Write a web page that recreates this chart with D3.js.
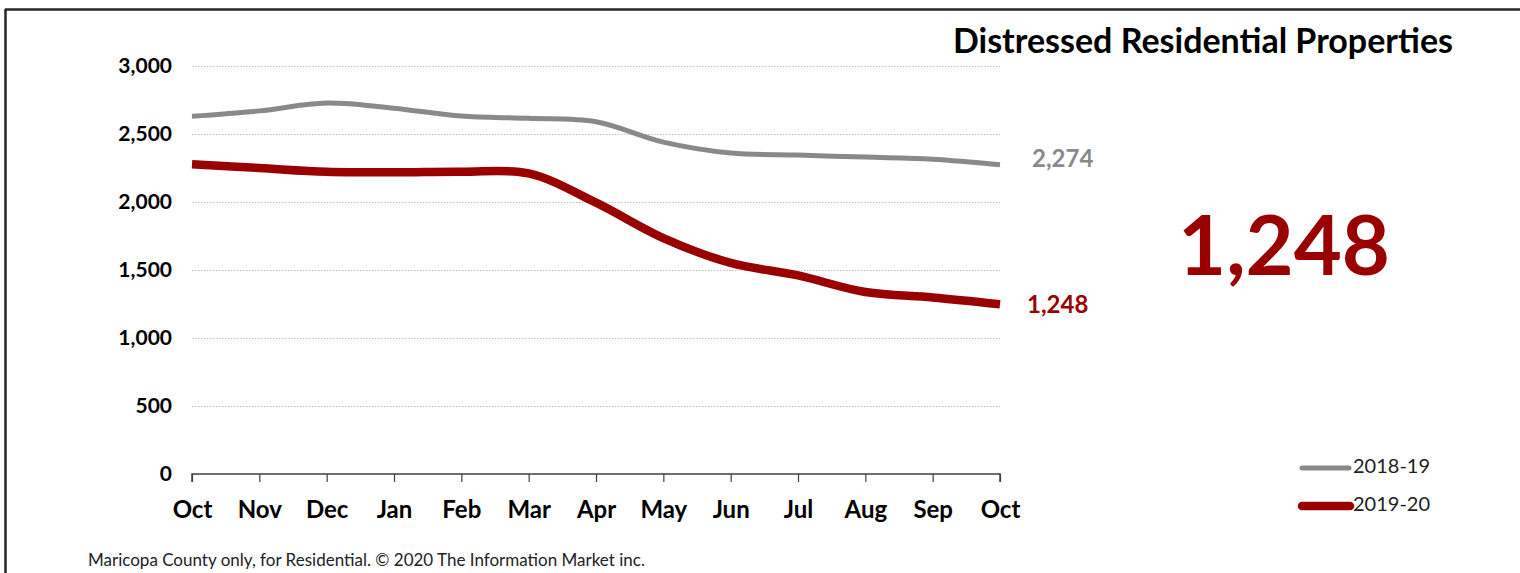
<!DOCTYPE html>
<html>
<head>
<meta charset="utf-8">
<script src="https://cdn.jsdelivr.net/npm/d3@7"></script>
<style>
  html, body { margin: 0; padding: 0; background: #fff; }
  svg { display: block; font-family: Lato, "Open Sans", sans-serif; }
</style>
</head>
<body>
<svg id="chart" width="1520" height="573"></svg>
<script>
const months = ["Oct","Nov","Dec","Jan","Feb","Mar","Apr","May","Jun","Jul","Aug","Sep","Oct"];
const series2018 = [2630, 2670, 2728, 2690, 2632, 2615, 2590, 2440, 2360, 2345, 2330, 2315, 2274];
const series2019 = [2278, 2250, 2222, 2218, 2222, 2210, 1995, 1735, 1552, 1460, 1338, 1298, 1248];
const yTicks = [0, 500, 1000, 1500, 2000, 2500, 3000];
const seriesNames = ["2018-19", "2019-20"];
const title = "Distressed Residential Properties";
const footer = "Maricopa County only, for Residential. \u00A9 2020 The Information Market inc.";

const svg = d3.select("#chart");
const fmt = d3.format(",");

// frame
svg.append("line").attr("x1", 5).attr("x2", 1520).attr("y1", 9.5).attr("y2", 9.5)
  .attr("stroke", "#262626").attr("stroke-width", 2.5);
svg.append("line").attr("x1", 5.5).attr("x2", 5.5).attr("y1", 9).attr("y2", 573)
  .attr("stroke", "#262626").attr("stroke-width", 2.5);

const x = d3.scaleLinear().domain([0, months.length - 1]).range([192, 1000]);
const y = d3.scaleLinear().domain([0, 3000]).range([474, 66]);

// gridlines
svg.append("g").selectAll("line").data(yTicks.filter(d => d > 0)).join("line")
  .attr("x1", 192).attr("x2", 1000)
  .attr("y1", d => Math.round(y(d)) + 0.5).attr("y2", d => Math.round(y(d)) + 0.5)
  .attr("stroke", "#bfbfbf").attr("stroke-width", 1).attr("stroke-dasharray", "1.5,1.5");

// y axis labels
const yAxis = d3.axisLeft(y).tickValues(yTicks).tickSize(0).tickPadding(0).tickFormat(fmt);
const gy = svg.append("g").attr("transform", "translate(172,0)").call(yAxis);
gy.select(".domain").remove();
gy.selectAll("text").attr("font-size", 21).attr("font-weight", 700).attr("fill", "#000")
  .attr("font-family", "Lato, sans-serif");

// x axis
const xAxis = d3.axisBottom(x).tickValues(d3.range(months.length)).tickSize(8).tickPadding(19)
  .tickFormat(i => months[i]);
const gx = svg.append("g").attr("transform", "translate(0,474)").call(xAxis);
gx.select(".domain").attr("stroke", "#404040").attr("stroke-width", 1.5).attr("d", "M192,8V0H1000V8");
gx.selectAll(".tick line").attr("stroke", "#404040").attr("stroke-width", 1.2);
gx.selectAll("text").attr("font-size", 24).attr("font-weight", 700).attr("fill", "#000")
  .attr("font-family", "Lato, sans-serif");

// lines
const line = d3.line().x((d, i) => x(i)).y(d => y(d)).curve(d3.curveCatmullRom.alpha(0.5));
svg.append("path").datum(series2018).attr("d", line)
  .attr("fill", "none").attr("stroke", "#898989").attr("stroke-width", 5);
svg.append("path").datum(series2019).attr("d", line)
  .attr("fill", "none").attr("stroke", "#990000").attr("stroke-width", 8.5);

// end labels
const last = months.length - 1;
svg.append("text").attr("x", 1032).attr("y", y(series2018[last]) - 4)
  .attr("dominant-baseline", "middle").attr("font-size", 24).attr("font-weight", 700)
  .attr("fill", "#898989").text(fmt(series2018[last]));
svg.append("text").attr("x", 1027).attr("y", y(series2019[last]) + 3)
  .attr("dominant-baseline", "middle").attr("font-size", 24).attr("font-weight", 700)
  .attr("fill", "#990000").text(fmt(series2019[last]));

// title
svg.append("text").attr("x", 1453).attr("y", 53).attr("text-anchor", "end")
  .attr("font-size", 34).attr("font-weight", 700).attr("fill", "#000").text(title);

// big number
svg.append("text").attr("x", 1284).attr("y", 275).attr("text-anchor", "middle")
  .attr("font-size", 83).attr("font-weight", 700).attr("fill", "#990000")
  .text(fmt(series2019[last]));

// legend
const legend = [
  {name: seriesNames[0], color: "#898989", w: 5, y: 468, x1: 1302, x2: 1349},
  {name: seriesNames[1], color: "#990000", w: 8.5, y: 506, x1: 1302, x2: 1350}
];
const lg = svg.append("g").selectAll("g").data(legend).join("g");
lg.append("line").attr("x1", d => d.x1).attr("x2", d => d.x2).attr("y1", d => d.y).attr("y2", d => d.y)
  .attr("stroke", d => d.color).attr("stroke-width", d => d.w).attr("stroke-linecap", "round");
lg.append("text").attr("x", 1353).attr("y", d => d.y).attr("dominant-baseline", "middle")
  .attr("font-size", 20).attr("fill", "#222").text(d => d.name);

// footer
svg.append("text").attr("x", 88).attr("y", 566).attr("font-size", 17).attr("fill", "#222")
  .text(footer);
</script>
</body>
</html>
